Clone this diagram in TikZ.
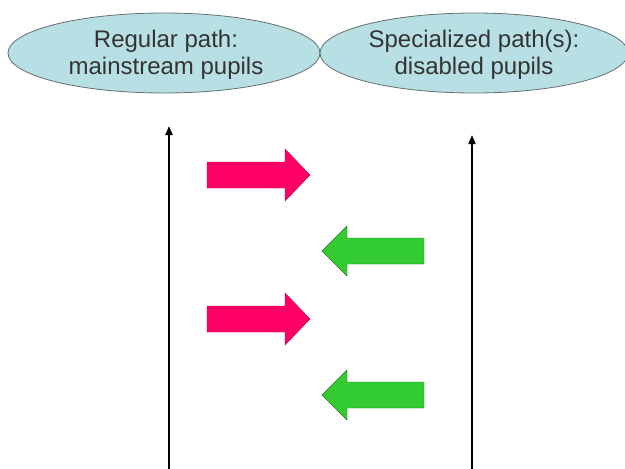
\documentclass[tikz,border=0pt]{standalone}
\usepackage{fontspec}
\setmainfont{Liberation Sans}
\usetikzlibrary{arrows.meta}
\definecolor{ellfill}{RGB}{184,224,228}
\definecolor{ellline}{RGB}{100,110,110}
\definecolor{pinkarr}{RGB}{255,0,102}
\definecolor{greenarr}{RGB}{50,204,50}
\begin{document}
\begin{tikzpicture}[x=1pt,y=-1pt,
  pathell/.style={draw=ellline,line width=0.8pt,fill=ellfill},
  lbl/.style={font=\fontsize{24}{26.5}\selectfont,text=black!80,align=center},
  vline/.style={line width=2pt,-{Triangle[length=9pt,width=7pt]}},
  rarrow/.style={fill=pinkarr,draw=pinkarr!70!black,line width=0.4pt},
  larrow/.style={fill=greenarr,draw=greenarr!60!black,line width=0.4pt}]
\useasboundingbox (0,0) rectangle (625,469);
% ellipses
\draw[pathell] (164,53) ellipse [x radius=156, y radius=40];
\draw[pathell] (474,53) ellipse [x radius=154, y radius=40];
\node[lbl] (reg) at (166,55) {Regular path:\\mainstream pupils};
\node[lbl] (spec) at (474,55) {Specialized path(s):\\disabled pupils};
% vertical arrows
\coordinate (lb) at (169,469);
\coordinate (lt) at (169,126);
\coordinate (rb) at (472,469);
\coordinate (rt) at (472,135);
\draw[vline] (lb) -- (lt);
\draw[vline] (rb) -- (rt);
% pink arrows (right)
\foreach \yy in {175,319}{
  \draw[rarrow] (207,\yy-13) -- (285,\yy-13) -- (285,\yy-26) -- (310,\yy)
     -- (285,\yy+26) -- (285,\yy+13) -- (207,\yy+13) -- cycle;
}
% green arrows (left)
\foreach \yy in {251,395}{
  \draw[larrow] (424,\yy-13) -- (347,\yy-13) -- (347,\yy-25) -- (322,\yy)
     -- (347,\yy+25) -- (347,\yy+13) -- (424,\yy+13) -- cycle;
}
\end{tikzpicture}
\end{document}
